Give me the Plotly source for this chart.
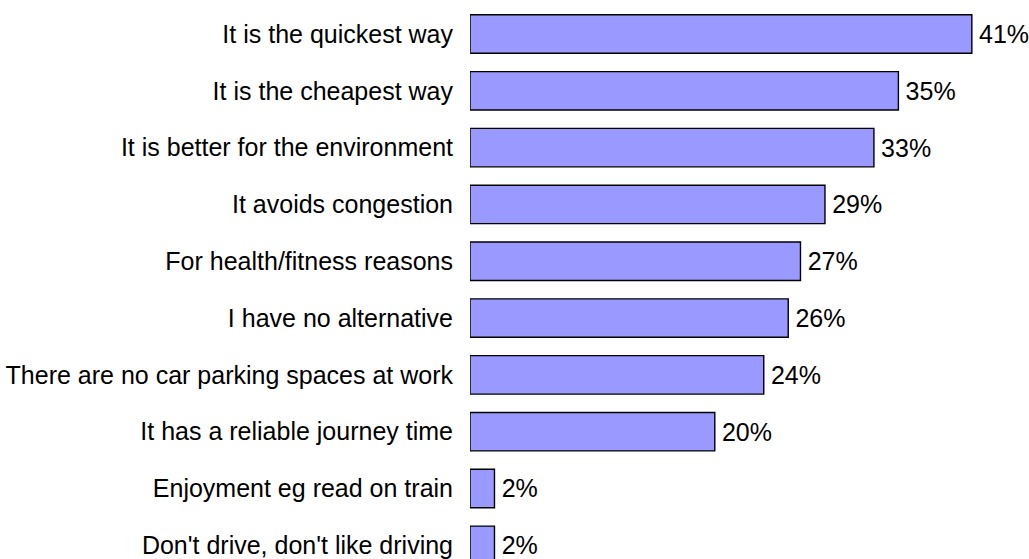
import plotly.graph_objects as go

# Reasons for choosing the mode of travel to work (share of respondents, %)
reasons = [
    "It is the quickest way",
    "It is the cheapest way",
    "It is better for the environment",
    "It avoids congestion",
    "For health/fitness reasons",
    "I have no alternative",
    "There are no car parking spaces at work",
    "It has a reliable journey time",
    "Enjoyment eg read on train",
    "Don't drive, don't like driving",
]
shares = [41, 35, 33, 29, 27, 26, 24, 20, 2, 2]
# a narrow leading space keeps the value labels clear of the bar ends
value_labels = [f"\u2006{v}%" for v in shares]

FONT = "Liberation Sans, Arial, sans-serif"
SIZE = 25

fig = go.Figure(
    go.Bar(
        x=shares,
        y=reasons,
        orientation="h",
        width=0.676,
        marker=dict(color="#9999FF", line=dict(color="#000000", width=1.4)),
        text=value_labels,
        textposition="outside",
        textfont=dict(family=FONT, size=SIZE, color="#000000"),
        cliponaxis=False,
        hoverinfo="skip",
    )
)

fig.update_layout(
    width=1029,
    height=559,
    margin=dict(l=470, r=0, t=0, b=0),
    paper_bgcolor="#ffffff",
    plot_bgcolor="#ffffff",
    showlegend=False,
    font=dict(family=FONT, size=SIZE, color="#000000"),
)

fig.update_xaxes(
    range=[0, 559 / 12.24],
    visible=False,
    showgrid=False,
    zeroline=False,
)

fig.update_yaxes(
    type="category",
    categoryorder="array",
    categoryarray=reasons,
    range=[9.241, -0.5985],
    showgrid=False,
    zeroline=False,
    showline=False,
    ticks="",
    ticklabelstandoff=16,
    tickfont=dict(family=FONT, size=SIZE, color="#000000"),
)

fig.write_html("out.html")
